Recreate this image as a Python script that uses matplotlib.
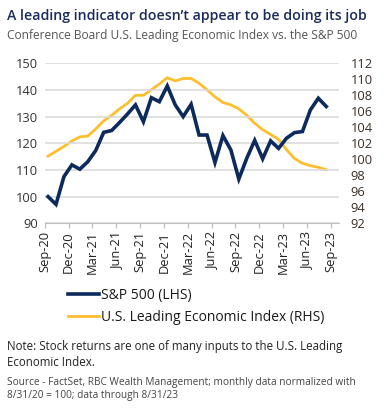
import matplotlib.pyplot as plt
import numpy as np

# monthly data, normalized (S&P on left axis, LEI on right axis)
sp500 = [100.0, 97.1, 107.5, 111.9, 110.3, 113.1, 117.3, 124.1, 124.8, 127.8,
         131.0, 134.4, 128.1, 137.1, 135.6, 141.5, 134.4, 130.0, 134.6, 123.1,
         123.1, 112.8, 122.9, 117.5, 106.6, 114.4, 121.1, 114.2, 120.9, 118.1,
         121.9, 124.0, 124.4, 132.5, 136.9, 133.8]
lei = [100.4, 101.0, 101.6, 102.3, 102.8, 102.9, 103.8, 104.8, 105.5, 106.3,
       107.0, 108.0, 108.0, 108.7, 109.4, 110.2, 109.8, 110.1, 110.1, 109.5,
       108.7, 107.8, 107.1, 106.8, 106.3, 105.5, 104.5, 103.7, 103.1, 102.5,
       101.2, 100.1, 99.5, 99.2, 99.0, 98.7]
tick_labels = ["Sep-20", "Dec-20", "Mar-21", "Jun-21", "Sep-21", "Dec-21", "Mar-22",
               "Jun-22", "Sep-22", "Dec-22", "Mar-23", "Jun-23", "Sep-23"]

NAVY = "#0c2a5b"
GOLD = "#fdbf2d"
FONT = "Open Sans"

plt.rcParams['font.family'] = [FONT, 'DejaVu Sans']

fig = plt.figure(figsize=(3.84, 4.11), dpi=100)
ax = fig.add_axes([0.1164, 0.4567, 0.7672, 0.3893])
ax2 = ax.twinx()

x = np.arange(len(sp500)) + 0.42
ax.plot(x, sp500, color=NAVY, lw=2.6, solid_joinstyle='miter', zorder=3,
        label="S&P 500 (LHS)")
ax2.plot(x, lei, color=GOLD, lw=2.0, zorder=2,
         label="U.S. Leading Economic Index (RHS)")

ax.set_xlim(0, 37.06)
ax.set_ylim(90, 150)
ax.set_yticks(np.arange(90, 151, 10))
ax2.set_ylim(92, 112)
ax2.set_yticks(np.arange(92, 113, 2))
ax.set_xticks(np.arange(0, 37, 3))
ax.set_xticklabels(tick_labels, rotation=90)

ax.grid(axis='y', color='#d9d9d9', lw=1.1)
ax.set_axisbelow(True)
ax.set_zorder(ax2.get_zorder() + 1)
ax.patch.set_visible(False)

for a in (ax, ax2):
    for s in ('top', 'left', 'right', 'bottom'):
        a.spines[s].set_visible(False)
ax.spines['bottom'].set_visible(True)
ax.spines['bottom'].set_color('#bfbfbf')
ax.tick_params(axis='x', length=3.5, color='#bfbfbf', width=0.9, pad=2,
               labelsize=9.3, labelcolor='#222222')
ax.tick_params(axis='y', length=0, pad=5, labelsize=9.3, labelcolor='#333333')
ax2.tick_params(axis='y', length=0, pad=8, labelsize=9.3, labelcolor='#3b2f25')

# legend
h1, l1 = ax.get_legend_handles_labels()
h2, l2 = ax2.get_legend_handles_labels()
fig.legend(h1 + h2, l1 + l2, loc='upper left', bbox_to_anchor=(0.177, 0.3),
           frameon=False, fontsize=10, handlelength=2.2, handletextpad=0.2,
           labelspacing=0.55, borderpad=0, borderaxespad=0, labelcolor='#1a1a1a')

# titles and notes
fig.text(7 / 384, 1 - 20 / 411, "A leading indicator doesn\u2019t appear to be doing its job",
         fontsize=10.2, fontweight='semibold', color='#1b2d5e', va='baseline')
fig.text(7 / 384, 1 - 38.5 / 411, "Conference Board U.S. Leading Economic Index vs. the S&P 500",
         fontsize=8.6, color='#555555', va='baseline')
fig.text(7 / 384, 1 - 350 / 411,
         "Note: Stock returns are one of many inputs to the U.S. Leading",
         fontsize=8.3, color='#222222', va='baseline')
fig.text(7 / 384, 1 - 366 / 411, "Economic Index.",
         fontsize=8.3, color='#222222', va='baseline')
fig.text(7 / 384, 1 - 385 / 411,
         "Source - FactSet, RBC Wealth Management; monthly data normalized with",
         fontsize=7.3, color='#444444', va='baseline')
fig.text(7 / 384, 1 - 397.5 / 411, "8/31/20 = 100; data through 8/31/23",
         fontsize=7.3, color='#444444', va='baseline')

fig.savefig("out.png", dpi=100)
